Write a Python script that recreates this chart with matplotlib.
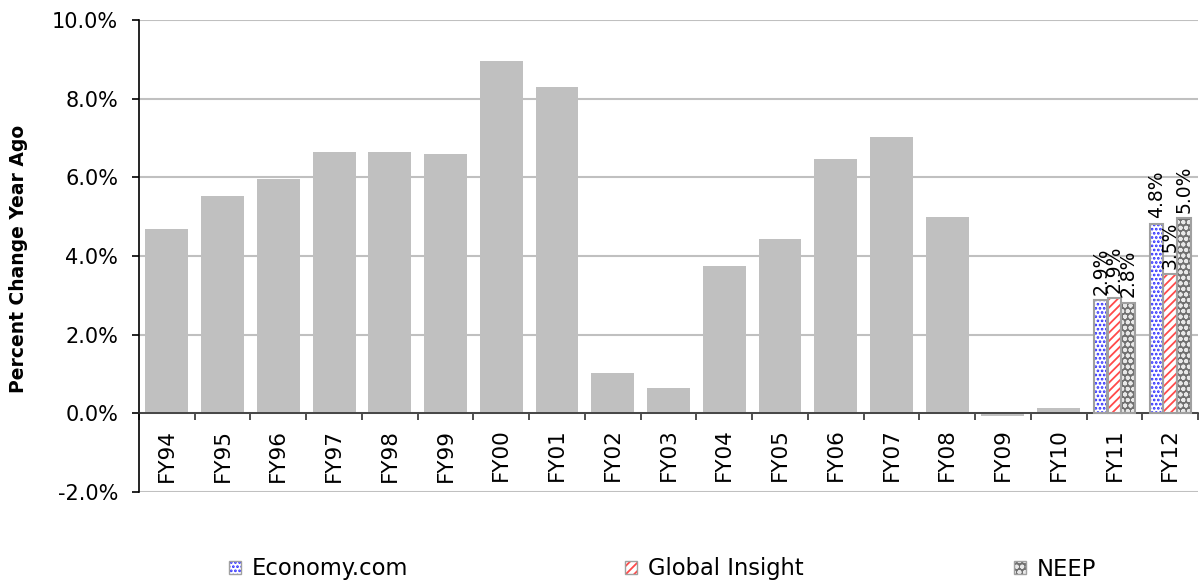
import matplotlib
matplotlib.use("Agg")
import matplotlib.pyplot as plt
from matplotlib.patches import Patch
from matplotlib.legend_handler import HandlerTuple
import numpy as np

categories = ['FY94', 'FY95', 'FY96', 'FY97', 'FY98', 'FY99', 'FY00', 'FY01', 'FY02',
              'FY03', 'FY04', 'FY05', 'FY06', 'FY07', 'FY08', 'FY09', 'FY10', 'FY11', 'FY12']
history = [4.69, 5.53, 5.96, 6.65, 6.65, 6.60, 8.96, 8.30, 1.03, 0.64,
           3.75, 4.43, 6.47, 7.03, 5.00, -0.06, 0.14]
forecast_years = ['FY11', 'FY12']
economy = [2.87, 4.82]
global_insight = [2.93, 3.53]
neep = [2.81, 4.96]
series_names = ['Economy.com', 'Global Insight', 'NEEP']
y_ticks = [-2, 0, 2, 4, 6, 8, 10]

plt.rcParams['font.family'] = ['DejaVu Sans']
plt.rcParams['hatch.linewidth'] = 1.3

fig = plt.figure(figsize=(12, 5.81), dpi=100)
W, H = 1200, 581
ax = fig.add_axes([139 / W, 1 - 492 / H, (1198 - 139) / W, (492 - 20) / H])

n = len(categories)
x = np.arange(n)
ax.set_xlim(-0.5, n - 0.5)
ax.set_ylim(-2, 10)

# historical bars
ax.bar(x[:len(history)], history, width=0.77, color='#c0c0c0', edgecolor='none', zorder=2)

# forecast bars
styles = [
    dict(face='white', hatch='....', hcolor='#2a2aff'),
    dict(face='white', hatch='////', hcolor='#ff4a4a'),
    dict(face='#707070', hatch='ooo', hcolor='#e8e8e8'),
]
fx = np.array([categories.index(c) for c in forecast_years])
bw = 0.245
offsets = [-0.247, 0.0, 0.247]
series = [economy, global_insight, neep]
handles = []
for vals, st, off, name in zip(series, styles, offsets, series_names):
    ax.bar(fx + off, vals, width=bw, color=st['face'], hatch=st['hatch'],
           edgecolor=st['hcolor'], linewidth=0, zorder=3)
    ax.bar(fx + off, vals, width=bw, fill=False, edgecolor='#a0a0a0',
           linewidth=1.5, zorder=4)
    for xi, v in zip(fx + off, vals):
        ax.annotate(f"{v:.1f}%", (xi, v), xytext=(0, 4), textcoords='offset points',
                    rotation=90, ha='center', va='bottom', fontsize=13.5, zorder=5)
    p1 = Patch(facecolor=st['face'], hatch=st['hatch'], edgecolor=st['hcolor'], linewidth=0)
    p2 = Patch(fill=False, edgecolor='#a0a0a0', linewidth=1.0)
    handles.append((p1, p2))

# axes styling
ax.set_yticks(y_ticks)
ax.set_yticklabels([f"{t:.1f}%" for t in y_ticks], fontsize=15)
ax.yaxis.grid(True, color='#c0c0c0', linewidth=1.5, zorder=0)
ax.set_axisbelow(True)
ax.tick_params(axis='y', direction='out', length=5, width=1.2, color='black', pad=10)

for s in ['top', 'right']:
    ax.spines[s].set_visible(False)
ax.spines['left'].set_color('black')
ax.spines['left'].set_linewidth(1.2)
ax.spines['bottom'].set_position(('data', 0))
ax.spines['bottom'].set_color('#303030')
ax.spines['bottom'].set_linewidth(1.2)

ax.set_xticks(x)
ax.set_xticklabels(categories, rotation=90, fontsize=15.5)
ax.tick_params(axis='x', which='major', length=0, pad=11)
ax.set_xticks(np.arange(-0.5, n, 1.0), minor=True)
ax.tick_params(axis='x', which='minor', direction='out', length=5, width=1.2, color='#303030')

fig.text(19 / W, 1 - 259 / H, 'Percent Change Year Ago', rotation=90, ha='center',
         va='center', fontsize=13.5, fontweight='bold')

# legends
leg_x = [229, 625, 1014]
for h, name, lx in zip(handles, series_names, leg_x):
    fig.legend([h], [name], handler_map={tuple: HandlerTuple(ndivide=1, pad=0)},
               loc='center left', bbox_to_anchor=(lx / W, 1 - 569 / H),
               frameon=False, fontsize=16.3, borderpad=0, borderaxespad=0,
               handlelength=0.55, handleheight=0.55, handletextpad=0.45)

fig.savefig('out.png', dpi=100)
